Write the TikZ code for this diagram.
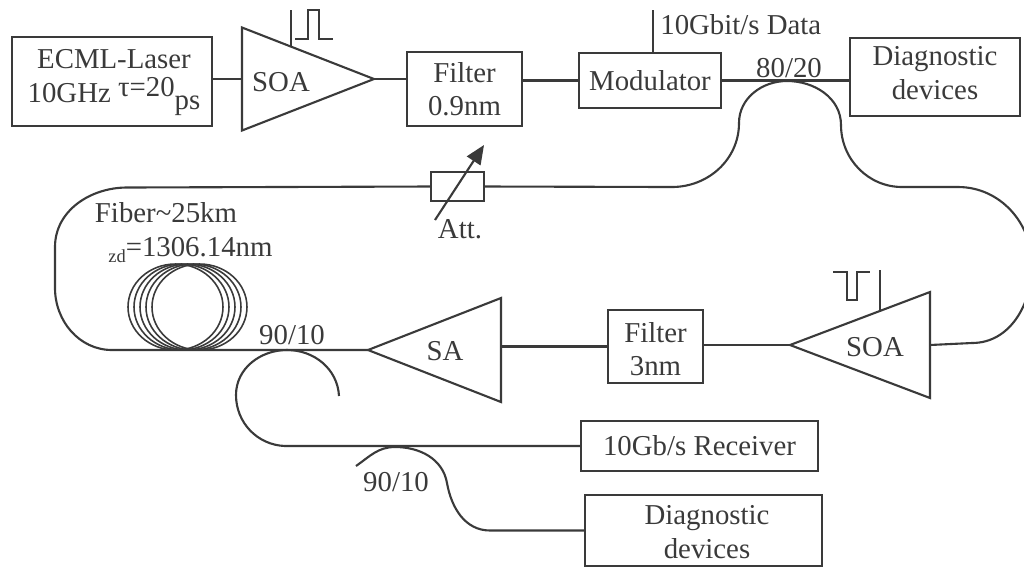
\documentclass[tikz,border=0pt]{standalone}
\usepackage{fontspec}
\setmainfont{Liberation Serif}
\usepackage{xcolor}
\usetikzlibrary{shapes.geometric, arrows.meta}
\definecolor{inkgray}{HTML}{3A3A3A}
\tikzset{
  box/.style={rectangle, draw=inkgray, line width=1.2pt, align=center, inner sep=0pt, outer sep=0pt,
              text=inkgray, font=\fontsize{16.4}{19}\selectfont},
  amp/.style={isosceles triangle, isosceles triangle stretches, draw=inkgray, line width=1.2pt,
              inner sep=0pt, outer sep=0pt},
  wire/.style={draw=inkgray, line width=1.2pt},
  coil/.style={draw=inkgray, line width=0.9pt},
  lbl/.style={text=inkgray, inner sep=0pt, align=center, font=\fontsize{16.4}{19}\selectfont},
}

\begin{document}
\begin{tikzpicture}[x=0.02cm, y=-0.02cm]
  \useasboundingbox (0,0) rectangle (1024,566);

  % Top row
  \node[box, minimum width=4cm, minimum height=1.78cm] (laser) at (112,81.5) {};
  \node[lbl] (laserlbl) at (114,82.5)
    {ECML-Laser\\10GHz \raisebox{3pt}{τ=20}\raisebox{-4pt}{ps}};
  \node[amp, minimum width=2.06cm, minimum height=2.64cm, anchor=apex] (soaa) at (374,79) {};
  \node[lbl] (soaalbl) at (281,82) {SOA};
  \node[box, minimum width=2.3cm, minimum height=1.48cm] (filta) at (464.5,89) {Filter\\0.9nm};
  \node[box, minimum width=2.84cm, minimum height=1.1cm] (modul) at (650,80.5) {Modulator};
  \node[box, minimum width=3.4cm, minimum height=1.56cm] (diaga) at (935,77) {};
  \node[lbl] (diagalbl) at (935,73) {Diagnostic\\devices};

  \draw[wire] (soaa.apex -| laser.east) -- (soaa.lower side);
  \draw[wire] (soaa.apex) -- (soaa.apex -| filta.west);
  \draw[wire] (filta.east |- modul.west) -- (modul.west);
  \draw[wire] (modul.east) -- (modul.east -| diaga.west);

  % Drive signals
  \coordinate (gatea) at (291,10);
  \coordinate (gateaend) at (291,46);
  \draw[wire] (gatea) -- (gateaend);
  \coordinate (pulsea) at (295,39);
  \draw[wire] (pulsea) -- ++(13,0) -- ++(0,-29) -- ++(11,0) -- ++(0,29) -- ++(14,0);
  \coordinate (datain) at (653,10);
  \draw[wire] (datain) -- (datain |- modul.north);
  \node[lbl, anchor=west] (datalbl) at (660,25) {10Gbit/s Data};
  \node[lbl] (cplra) at (789,68) {80/20};

  % Attenuator
  \node[box, minimum width=1.06cm, minimum height=0.58cm] (att) at (457.5,186.5) {};
  \coordinate (attfrom) at (435,220);
  \coordinate (attto) at (484,145);
  \draw[wire, -{Stealth[length=0.38cm, width=0.32cm, inset=0pt]}] (attfrom) -- (attto);
  \node[lbl] (attlbl) at (460,229) {Att.};

  % Return row
  \node[amp, shape border rotate=180, minimum width=2.12cm, minimum height=2.8cm, anchor=apex] (soab) at (790,345) {};
  \node[lbl] (soablbl) at (875,347) {SOA};
  \node[box, minimum width=1.9cm, minimum height=1.46cm] (filtb) at (655.5,346.5) {};
  \node[lbl] (filtblbl) at (655.5,349) {Filter\\3nm};
  \node[amp, shape border rotate=180, minimum width=2.08cm, minimum height=2.66cm, anchor=apex] (sa) at (368,350) {};
  \node[lbl] (salbl) at (445,351) {SA};

  \draw[wire] (soab.apex) -- (filtb.east |- soab.apex);
  \draw[wire] (filtb.west) -- (filtb.west -| sa.lower side);

  \coordinate (gateb) at (880,270);
  \coordinate (gatebend) at (880,311);
  \draw[wire] (gateb) -- (gatebend);
  \coordinate (pulseb) at (833,272);
  \draw[wire] (pulseb) -- ++(14,0) -- ++(0,28) -- ++(10,0) -- ++(0,-28) -- ++(13,0);

  % Ring fiber
  \draw[wire] (att.east) -- (672,187) to[out=0, in=-90] (739,123) to[out=90, in=180] (787,81)
    to[out=0, in=90] (841,125) to[out=-90, in=180] (902,187) -- (958,187)
    to[out=0, in=90] (1032,265) to[out=-90, in=0] (972,343) -- (soab.lower side);
  \draw[wire] (att.west) -- (127,187.5) to[out=180, in=90] (55,247) -- (55,288)
    to[out=-90, in=180] (112,350) -- (sa.apex);

  % Fiber spool
  \node[lbl] (fiblbl) at (166,213) {Fiber\textasciitilde25km};
  \node[lbl, anchor=west] (zdlbl) at (108,250)
    {\raisebox{-3pt}{\fontsize{10.5}{10.5}\selectfont zd}=1306.14nm};
  \foreach \cx in {175.5,181.5,187.5,193.5,199.5}
    \draw[coil] (\cx,307) ellipse [x radius=0.95cm, y radius=0.86cm];

  % Output branch
  \node[lbl] (cplrb) at (292,335) {90/10};
  \node[box, minimum width=4.74cm, minimum height=1cm] (rcv) at (699.5,446) {10Gb/s Receiver};
  \coordinate (taila) at (339,396);
  \draw[wire] (taila) to[out=93, in=0] (287,350) to[out=180, in=90] (236,395)
    to[out=-90, in=178] (285,446) -- (rcv.west);

  \node[lbl] (cplrc) at (396,482) {90/10};
  \node[box, minimum width=4.74cm, minimum height=1.42cm] (diagb) at (703.5,530.5) {};
  \node[lbl] (diagblbl) at (707,532) {Diagnostic\\devices};
  \coordinate (tailb) at (356,466);
  \draw[wire] (tailb) to[out=35, in=180] (395,447) to[out=0, in=100] (447,483)
    to[out=-80, in=180] (490,530.5) -- (diagb.west);
\end{tikzpicture}
\end{document}
